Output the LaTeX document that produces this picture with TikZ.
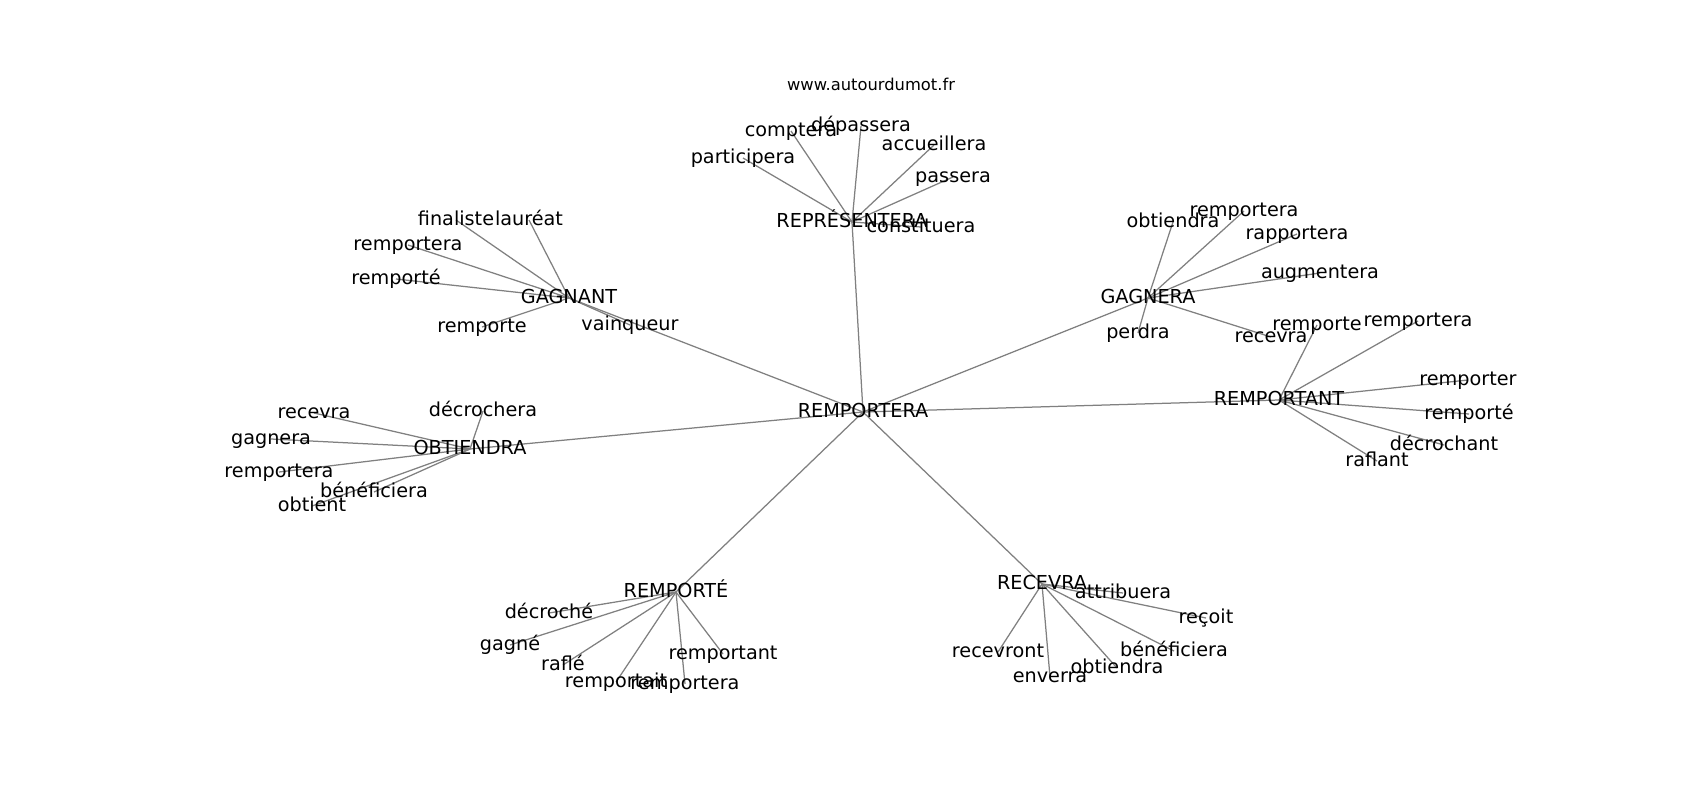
\documentclass[tikz,border=0pt]{standalone}
\usepackage{fontspec}
\setmainfont{DejaVu Sans}
\pgfdeclarelayer{bg}
\pgfsetlayers{bg,main}
\begin{document}
\begin{tikzpicture}[x=0.72pt,y=-0.72pt,
  lbl/.style={inner sep=0pt,outer sep=0pt,font=\fontsize{13.85}{16}\selectfont,text height=10.5pt,text depth=3.3pt,anchor=center},
  ttl/.style={inner sep=0pt,font=\fontsize{11.75}{14}\selectfont,anchor=center},
  edge/.style={draw=gray,line width=0.9pt}]
\useasboundingbox (0,0) rectangle (1700,800);
\node[ttl] (title) at (871,84) {www.autourdumot.fr};
% hubs
\node[lbl] (C) at (863,412) {REMPORTERA};
\node[lbl] (R) at (852,222) {REPRÉSENTERA};
\node[lbl] (GT) at (569,298) {GAGNANT};
\node[lbl] (GR) at (1148,298) {GAGNERA};
\node[lbl] (RT) at (1279,400) {REMPORTANT};
\node[lbl] (OB) at (470,449) {OBTIENDRA};
\node[lbl] (RE) at (676,592) {REMPORTÉ};
\node[lbl] (RC) at (1042,584) {RECEVRA};
% REPRESENTERA leaves
\node[lbl] (r1) at (743,158) {participera};
\node[lbl] (r2) at (791,131) {comptera};
\node[lbl] (r3) at (861,126) {dépassera};
\node[lbl] (r4) at (934,145) {accueillera};
\node[lbl] (r5) at (953,177) {passera};
\node[lbl] (r6) at (921,227) {constituera};
% GAGNANT leaves
\node[lbl] (g1) at (456,220) {finaliste};
\node[lbl] (g2) at (529,220) {lauréat};
\node[lbl] (g3) at (408,245) {remportera};
\node[lbl] (g4) at (396,279) {remporté};
\node[lbl] (g5) at (482,327) {remporte};
\node[lbl] (g6) at (630,325) {vainqueur};
% GAGNERA leaves
\node[lbl] (h1) at (1173,222) {obtiendra};
\node[lbl] (h2) at (1244,211) {remportera};
\node[lbl] (h3) at (1297,234) {rapportera};
\node[lbl] (h4) at (1320,273) {augmentera};
\node[lbl] (h5) at (1138,333) {perdra};
\node[lbl] (h6) at (1271,337) {recevra};
% REMPORTANT leaves
\node[lbl] (t1) at (1317,325) {remporte};
\node[lbl] (t2) at (1418,321) {remportera};
\node[lbl] (t3) at (1468,380) {remporter};
\node[lbl] (t4) at (1469,414) {remporté};
\node[lbl] (t5) at (1444,445) {décrochant};
\node[lbl] (t6) at (1377,461) {raflant};
% OBTIENDRA leaves
\node[lbl] (o1) at (314,413) {recevra};
\node[lbl] (o2) at (483,411) {décrochera};
\node[lbl] (o3) at (271,439) {gagnera};
\node[lbl] (o4) at (279,472) {remportera};
\node[lbl] (o5) at (374,492) {bénéficiera};
\node[lbl] (o6) at (312,506) {obtient};
% REMPORTE leaves
\node[lbl] (e1) at (549,613) {décroché};
\node[lbl] (e2) at (510,645) {gagné};
\node[lbl] (e3) at (563,665) {raflé};
\node[lbl] (e4) at (723,654) {remportant};
\node[lbl] (e5) at (616,682) {remportait};
\node[lbl] (e6) at (685,684) {remportera};
% RECEVRA leaves
\node[lbl] (c1) at (1123,593) {attribuera};
\node[lbl] (c2) at (1206,618) {reçoit};
\node[lbl] (c3) at (998,652) {recevront};
\node[lbl] (c4) at (1174,651) {bénéficiera};
\node[lbl] (c5) at (1117,668) {obtiendra};
\node[lbl] (c6) at (1050,677) {enverra};
\begin{pgfonlayer}{bg}
\fill[white] (0,0) rectangle (1700,800);
\foreach \h in {R,GT,GR,RT,OB,RE,RC} \draw[edge] (C.center) -- (\h.center);
\foreach \l in {r1,r2,r3,r4,r5,r6} \draw[edge] (R.center) -- (\l.center);
\foreach \l in {g1,g2,g3,g4,g5,g6} \draw[edge] (GT.center) -- (\l.center);
\foreach \l in {h1,h2,h3,h4,h5,h6} \draw[edge] (GR.center) -- (\l.center);
\foreach \l in {t1,t2,t3,t4,t5,t6} \draw[edge] (RT.center) -- (\l.center);
\foreach \l in {o1,o2,o3,o4,o5,o6} \draw[edge] (OB.center) -- (\l.center);
\foreach \l in {e1,e2,e3,e4,e5,e6} \draw[edge] (RE.center) -- (\l.center);
\foreach \l in {c1,c2,c3,c4,c5,c6} \draw[edge] (RC.center) -- (\l.center);
\end{pgfonlayer}
\end{tikzpicture}
\end{document}
